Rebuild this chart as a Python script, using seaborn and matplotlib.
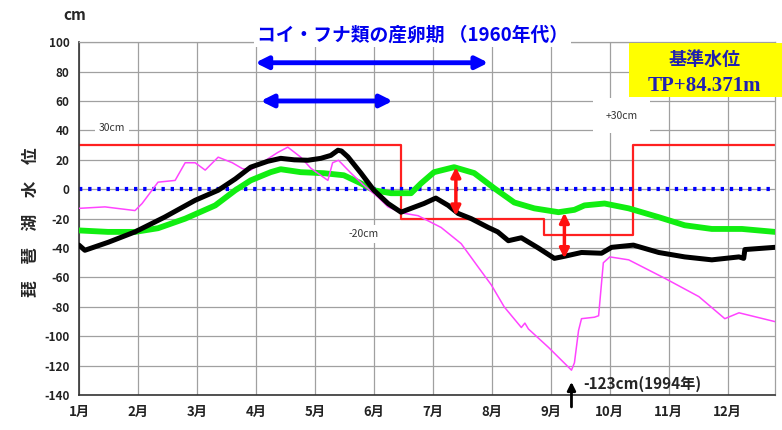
import pandas as pd
import seaborn as sns
import matplotlib
matplotlib.use('Agg')
import matplotlib.pyplot as plt
from matplotlib.patches import Rectangle

# x は月単位 (0 = 1月初め)
month_labels = ['1月', '2月', '3月', '4月', '5月', '6月', '7月', '8月', '9月', '10月', '11月', '12月']
y_ticks = [100, 80, 60, 40, 20, 0, -20, -40, -60, -80, -100, -120, -140]

black_x = [0.0, 0.10, 0.50, 0.95, 1.45, 1.97, 2.36, 2.65, 2.91, 3.20, 3.42, 3.65, 3.88, 4.10, 4.27,
           4.39, 4.45, 4.56, 4.78, 5.00, 5.24, 5.46, 5.63, 5.85, 6.05, 6.26, 6.43, 6.65, 6.94,
           7.10, 7.28, 7.50, 7.79, 8.06, 8.23, 8.52, 8.86, 9.03, 9.40, 9.83, 10.27, 10.73,
           11.19, 11.27, 11.29, 11.80]
black_y = [-38, -41.5, -36, -29, -19, -7.5, -0.7, 7, 15, 19, 21, 20, 19.7, 21, 23,
           26.5, 26, 22, 11, -0.7, -9.7, -15.6, -13, -9.7, -6, -11, -16.5, -20, -26,
           -29, -35, -33, -40, -47, -45.6, -43, -43.5, -39.5, -38, -43, -46, -48,
           -46, -47, -41, -39.5]

green_x = [0.0, 0.49, 0.95, 1.34, 1.80, 2.31, 2.65, 2.91, 3.25, 3.42, 3.76, 4.15, 4.49, 4.78,
           5.00, 5.29, 5.63, 5.80, 6.02, 6.36, 6.70, 7.04, 7.38, 7.72, 8.13, 8.40, 8.57,
           8.91, 9.32, 9.83, 10.27, 10.73, 11.24, 11.80]
green_y = [-28, -29, -29, -26.5, -20, -11, -0.7, 6, 11.6, 13.6, 11.6, 10.9, 9.5, 4,
           -0.7, -2.7, -2.7, 4, 11.6, 15, 11, 0.7, -9, -13, -15.6, -14, -11,
           -9.7, -13, -19, -24.5, -27, -27, -29]

magenta_x = [0.0, 0.44, 0.95, 1.07, 1.34, 1.63, 1.80, 1.97, 2.14, 2.36, 2.60, 2.77, 2.91,
             3.37, 3.54, 3.76, 3.93, 4.22, 4.30, 4.40, 4.61, 4.83, 5.07, 5.24, 5.46, 5.75,
             6.14, 6.48, 6.77, 6.99, 7.21, 7.50, 7.56, 7.62, 7.96, 8.30, 8.35, 8.40, 8.47,
             8.52, 8.74, 8.81, 8.89, 9.00, 9.32, 9.93, 10.51, 10.95, 11.19, 11.80]
magenta_y = [-13, -12, -14.5, -9.7, 4.8, 6, 18, 18, 13, 21.8, 18, 14, 13,
             25, 28.6, 21.8, 14.3, 6, 18, 19.7, 11, 2.7, -5.4, -12, -16, -18,
             -26, -37, -53, -65, -80, -94, -91, -95, -107.5, -121, -123, -118, -96,
             -88, -87, -86, -50, -46, -48, -60.5, -73, -88, -84, -90]

# 目標水位 (階段状)
target_x = [0.0, 5.46, 7.89, 9.39, 11.80]
target_y = [30, -20, -31, 30, 30]

# 産卵期の矢印 (開始, 終了, 高さ)
spawn_arrows = [(2.99, 6.94, 86), (3.08, 5.32, 60)]
# 赤い両矢印 (x, 上端, 下端)
gap_arrows = [(6.39, 15, -18), (8.23, -16, -47)]

sns.set_style('whitegrid')
plt.rcParams['font.family'] = ['Noto Sans CJK JP', 'DejaVu Sans']
fig, ax = plt.subplots(figsize=(7.82, 4.30), dpi=100)
fig.subplots_adjust(left=0.101, right=0.991, bottom=0.081, top=0.902)

df_green = pd.DataFrame({'x': green_x, 'y': green_y})
df_black = pd.DataFrame({'x': black_x, 'y': black_y})
df_mag = pd.DataFrame({'x': magenta_x, 'y': magenta_y})

ax.step(target_x, target_y, where='post', color='#ff2020', lw=1.6, zorder=2)
ax.axhline(0, color='#0000ff', lw=3, ls=(0, (0.8, 1.4)), zorder=2.5)
sns.lineplot(data=df_green, x='x', y='y', sort=False, estimator=None, color='#11ee11', lw=4.2, ax=ax, zorder=3)
sns.lineplot(data=df_mag, x='x', y='y', sort=False, estimator=None, color='#ff44ff', lw=1.1, ax=ax, zorder=4)
sns.lineplot(data=df_black, x='x', y='y', sort=False, estimator=None, color='black', lw=3.6, ax=ax, zorder=5)

for x0, x1, yy in spawn_arrows:
    ax.annotate('', xy=(x1, yy), xytext=(x0, yy),
                arrowprops=dict(arrowstyle='<|-|>', color='#0000ff', lw=3.5, mutation_scale=18,
                                shrinkA=0, shrinkB=0), zorder=6)
for xx, y0, y1 in gap_arrows:
    ax.annotate('', xy=(xx, y1), xytext=(xx, y0),
                arrowprops=dict(arrowstyle='<|-|>', color='#ff1010', lw=2.5, mutation_scale=14,
                                shrinkA=0, shrinkB=0), zorder=7)

ax.set_xlim(0, 11.8)
ax.set_ylim(-140, 100)
ax.set_xticks(range(12))
ax.set_xticklabels(month_labels, fontsize=9.5, fontweight='bold')
ax.set_yticks(y_ticks)
ax.set_yticklabels([str(v) for v in y_ticks], fontsize=8.5, fontweight='bold')
ax.tick_params(axis='both', length=0, colors='#222222')
ax.tick_params(axis='x', pad=7)
ax.tick_params(axis='y', pad=7)
ax.grid(True, color='#a0a0a0', lw=0.9)
ax.set_xlabel('')
ax.set_ylabel('琵　琶　湖　水　位', fontsize=12, fontweight='bold')
ax.yaxis.set_label_coords(-0.056, 0.49)
for s in ['left', 'bottom']:
    ax.spines[s].set_color('#333333')
    ax.spines[s].set_linewidth(1.2)
for s in ['top', 'right']:
    ax.spines[s].set_color('#a0a0a0')
    ax.spines[s].set_linewidth(0.9)

ax.text(-0.006, 1.076, 'cm', transform=ax.transAxes, fontsize=11, fontweight='bold', ha='center', va='center')
ax.text(5.65, 105, 'コイ・フナ類の産卵期 （1960年代）', fontsize=13.5, fontweight='bold', color='#0000ee',
        ha='center', va='center', clip_on=False,
        bbox=dict(facecolor='white', edgecolor='none', pad=2))

white = dict(facecolor='white', edgecolor='none', pad=3)
ax.text(0.56, 41.5, '30cm', fontsize=7.5, color='#333333', ha='center', va='center', bbox=white, zorder=6)
ax.text(4.82, -30.5, '-20cm', fontsize=7.5, color='#333333', ha='center', va='center', bbox=white, zorder=6)
ax.text(9.2, 50, '+30cm', fontsize=7.5, color='#333333', ha='center', va='center',
        bbox=dict(facecolor='white', edgecolor='none', pad=9), zorder=6)

ax.add_patch(Rectangle((9.32, 62.6), 2.6, 36.7, facecolor='#ffff00', edgecolor='none',
                       clip_on=False, zorder=6))
ax.text(10.6, 88, '基準水位', fontsize=13, fontweight='bold', color='#2020b0', ha='center', va='center', zorder=7)
ax.text(10.6, 70.5, 'TP+84.371m', fontsize=15, fontweight='bold', color='#2020b0', ha='center', va='center',
        family=['Liberation Serif', 'Noto Sans CJK JP'], zorder=7)

ax.annotate('', xy=(8.35, -131), xytext=(8.35, -148), annotation_clip=False,
            arrowprops=dict(arrowstyle='-|>', color='black', lw=2, mutation_scale=12, shrinkA=0, shrinkB=0))
ax.text(8.55, -132, '-123cm(1994年)', fontsize=11, fontweight='bold', ha='left', va='center', clip_on=False)

plt.savefig('out.png', dpi=100)
